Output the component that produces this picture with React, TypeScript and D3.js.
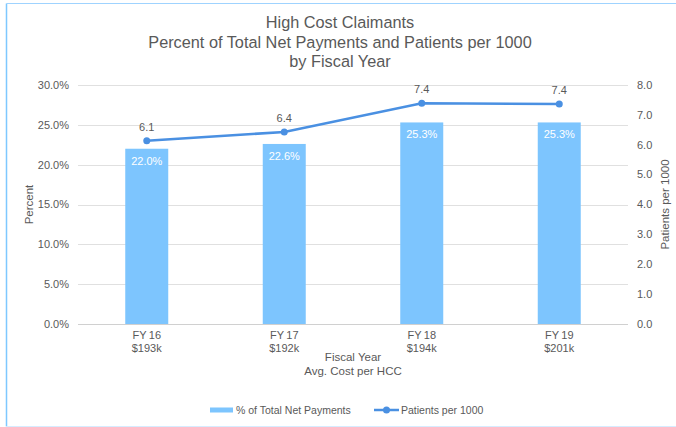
import React, { useEffect, useRef } from "react";
import * as d3 from "d3";

const years = ["FY16", "FY17", "FY18", "FY19"];
const avgCost = ["$193k", "$192k", "$194k", "$201k"];
const pctNetPayments = [22.0, 22.6, 25.3, 25.3];
const patientsPer1000 = [6.13, 6.43, 7.39, 7.36];
const pctTicks = [0, 5, 10, 15, 20, 25, 30];
const patientTicks = [0, 1, 2, 3, 4, 5, 6, 7, 8];
const titleLines = [
  "High Cost Claimants",
  "Percent of Total Net Payments and Patients per 1000",
  "by Fiscal Year",
];

const FONT = "'Liberation Sans', Arial, sans-serif";
const TEXT = "#595959";
const BAR = "#7DC5FE";
const LINE = "#4A90E2";

export default function App() {
  const ref = useRef<SVGSVGElement>(null);

  useEffect(() => {
    const width = 676;
    const height = 427;
    const margin = { top: 85, left: 78, bottom: 103, right: 48 };
    const iwidth = width - margin.left - margin.right;
    const iheight = height - margin.top - margin.bottom;

    const svg = d3.select(ref.current);
    svg.selectAll("*").remove();
    svg.attr("width", width).attr("height", height).style("font-family", FONT);

    svg.append("rect").attr("width", width).attr("height", height).attr("fill", "#fff");
    // outer border
    svg.append("line").attr("x1", 6.5).attr("x2", 6.5).attr("y1", 3.5).attr("y2", 426.5)
      .attr("stroke", "#7EC8FF").attr("stroke-width", 1.5);
    svg.append("line").attr("x1", 6.5).attr("x2", width).attr("y1", 3.5).attr("y2", 3.5)
      .attr("stroke", "#9FD3FF").attr("stroke-width", 1);
    svg.append("line").attr("x1", 6.5).attr("x2", width).attr("y1", 426.5).attr("y2", 426.5)
      .attr("stroke", "#D6ECFF").attr("stroke-width", 1);

    // title
    svg.append("g").selectAll("text").data(titleLines).enter().append("text")
      .attr("x", 340)
      .attr("y", (d, i) => 28 + i * 19.7)
      .attr("text-anchor", "middle")
      .attr("font-size", 16.3)
      .attr("fill", TEXT)
      .text(d => d);

    const g = svg.append("g").attr("transform", `translate(${margin.left},${margin.top})`);

    const x = d3.scaleBand().domain(years).range([0, iwidth]).paddingInner(0).paddingOuter(0);
    const yL = d3.scaleLinear().domain([0, 30]).range([iheight, 0]);
    const yR = d3.scaleLinear().domain([0, 8]).range([iheight, 0]);

    // gridlines
    g.append("g").selectAll("line").data(pctTicks).enter().append("line")
      .attr("x1", 0).attr("x2", iwidth)
      .attr("y1", d => Math.round(yL(d)) + 0.5).attr("y2", d => Math.round(yL(d)) + 0.5)
      .attr("stroke", d => (d === 0 ? "#D0D0D0" : "#E0E0E0")).attr("stroke-width", 1);

    // left axis labels
    g.append("g").selectAll("text").data(pctTicks).enter().append("text")
      .attr("x", -9).attr("y", d => yL(d)).attr("dy", "0.35em")
      .attr("text-anchor", "end").attr("font-size", 11).attr("fill", TEXT)
      .text(d => d3.format(".1f")(d) + "%");

    // right axis labels
    g.append("g").selectAll("text").data(patientTicks).enter().append("text")
      .attr("x", iwidth + 9).attr("y", d => yR(d)).attr("dy", "0.35em")
      .attr("text-anchor", "start").attr("font-size", 11).attr("fill", TEXT)
      .text(d => d3.format(".1f")(d));

    // bars
    const bw = 43;
    const data = years.map((yr, i) => ({ yr, pct: pctNetPayments[i], pat: patientsPer1000[i], cost: avgCost[i] }));
    const cx = (yr: string) => (x(yr) as number) + x.bandwidth() / 2;

    g.append("g").selectAll("rect").data(data).enter().append("rect")
      .attr("x", d => cx(d.yr) - bw / 2)
      .attr("y", d => yL(d.pct))
      .attr("width", bw)
      .attr("height", d => iheight - yL(d.pct))
      .attr("fill", BAR);

    g.append("g").selectAll("text").data(data).enter().append("text")
      .attr("x", d => cx(d.yr)).attr("y", d => yL(d.pct) + 16)
      .attr("text-anchor", "middle").attr("font-size", 11).attr("fill", "#fff")
      .text(d => d3.format(".1f")(d.pct) + "%");

    // line
    const line = d3.line<any>().x(d => cx(d.yr)).y(d => yR(d.pat));
    g.append("path").datum(data).attr("d", line)
      .attr("fill", "none").attr("stroke", LINE).attr("stroke-width", 2.5);
    g.append("g").selectAll("circle").data(data).enter().append("circle")
      .attr("cx", d => cx(d.yr)).attr("cy", d => yR(d.pat)).attr("r", 3.5).attr("fill", LINE);
    g.append("g").selectAll("text").data(data).enter().append("text")
      .attr("x", d => cx(d.yr)).attr("y", d => yR(d.pat) - 10)
      .attr("text-anchor", "middle").attr("font-size", 11).attr("fill", TEXT)
      .text(d => d3.format(".1f")(d.pat));

    // category labels
    const cats = g.append("g").selectAll("g").data(data).enter().append("g");
    cats.append("text").attr("x", d => cx(d.yr)).attr("y", iheight + 15)
      .attr("text-anchor", "middle").attr("font-size", 11).attr("fill", TEXT).text(d => d.yr.replace("FY", "FY\u2009"));
    cats.append("text").attr("x", d => cx(d.yr)).attr("y", iheight + 28)
      .attr("text-anchor", "middle").attr("font-size", 11).attr("fill", TEXT).text(d => d.cost);

    // axis titles
    g.append("text").attr("x", iwidth / 2).attr("y", iheight + 37)
      .attr("text-anchor", "middle").attr("font-size", 11.5).attr("fill", TEXT).text("Fiscal Year");
    g.append("text").attr("x", iwidth / 2).attr("y", iheight + 51)
      .attr("text-anchor", "middle").attr("font-size", 11.5).attr("fill", TEXT).text("Avg. Cost per HCC");
    g.append("text").attr("transform", `translate(${33 - margin.left},${iheight / 2}) rotate(-90)`)
      .attr("text-anchor", "middle").attr("font-size", 11.5).attr("fill", TEXT).text("Percent");
    g.append("text").attr("transform", `translate(${669 - margin.left},${iheight / 2}) rotate(-90)`)
      .attr("text-anchor", "middle").attr("font-size", 11.5).attr("fill", TEXT).text("Patients per 1000");

    // legend
    const lg = svg.append("g").attr("transform", "translate(0,410)");
    lg.append("rect").attr("x", 210).attr("y", -2.5).attr("width", 23).attr("height", 5).attr("fill", BAR);
    lg.append("text").attr("x", 236).attr("y", 0).attr("dy", "0.35em")
      .attr("font-size", 10.5).attr("fill", TEXT).text("% of Total Net Payments");
    lg.append("line").attr("x1", 374).attr("x2", 399).attr("y1", 0).attr("y2", 0)
      .attr("stroke", LINE).attr("stroke-width", 2.5);
    lg.append("circle").attr("cx", 386.5).attr("cy", 0).attr("r", 3.5).attr("fill", LINE);
    lg.append("text").attr("x", 401).attr("y", 0).attr("dy", "0.35em")
      .attr("font-size", 10.5).attr("fill", TEXT).text("Patients per 1000");
  }, []);

  return (
    <div style={{ position: "absolute", left: 0, top: 0 }}>
      <svg ref={ref} style={{ display: "block" }} />
    </div>
  );
}
